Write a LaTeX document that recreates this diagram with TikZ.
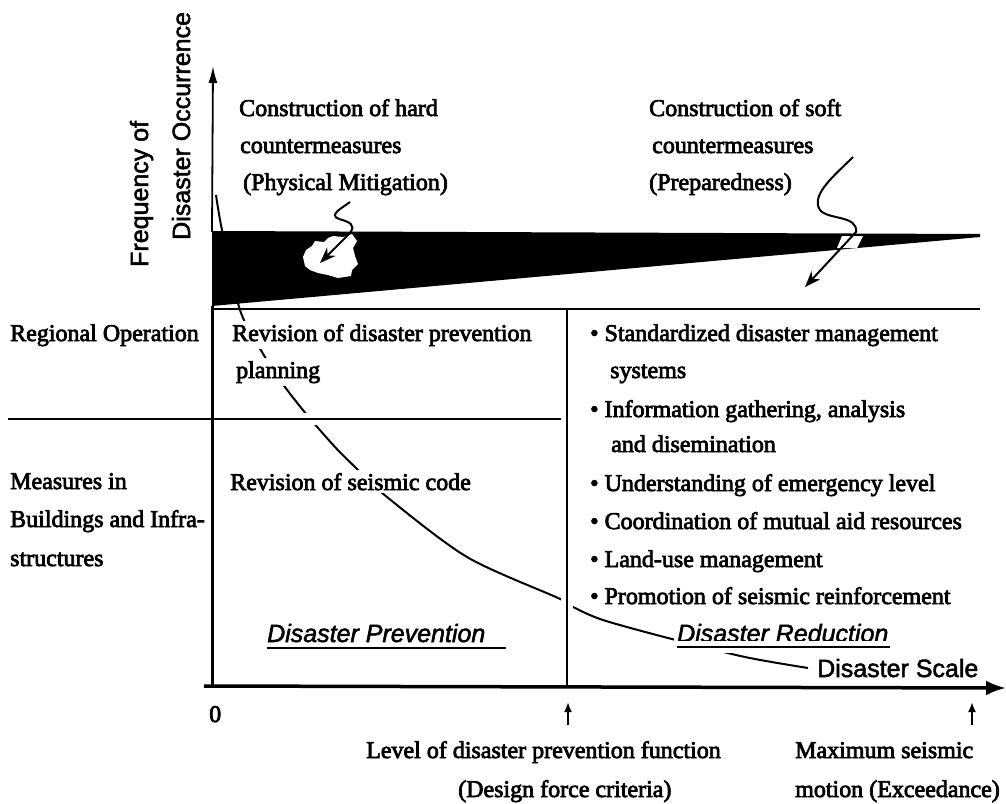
\documentclass[tikz,border=0pt]{standalone}
\usepackage{fontspec}
\setmainfont{Liberation Serif}[FakeBold=3]
\setsansfont{Liberation Sans}[FakeBold=2]
\usetikzlibrary{arrows.meta}

\tikzset{
	txt/.style={anchor=base west, inner sep=0pt},
	wtxt/.style={anchor=base west, fill=white, inner sep=3pt},
	sf/.style={font=\fontsize{25}{30}\selectfont\sffamily},
	sfit/.style={font=\fontsize{25}{30}\selectfont\sffamily\itshape},
	grid/.style={line width=2pt},
	halo/.style={preaction={draw=white, line width=12pt}},
}

\begin{document}
\begin{tikzpicture}[x=1pt, y=-1pt, font=\fontsize{24}{30}\selectfont]
	\useasboundingbox (0,0) rectangle (1006,803);

	% frequency curve (text and lines break it)
	\draw[line width=2pt] plot[smooth] coordinates {(216,195) (222,230) (240,310) (262,352) (282,383) (307,415) (335,447) (355,467) (387,497) (467,557) (558,598) (573,607) (603,620) (668,638) (745,657) (808,668)};

	% countermeasure wedge
	\fill (212,231) -- (980,234) -- (980,237) -- (212,306) -- cycle;
	\fill[white] (306,250) -- (312,246) -- (315,241) -- (324,242) -- (328,238) -- (333,236) -- (343,237) -- (352,234) -- (357,241) -- (353,248) -- (355,256) -- (358,264) -- (352,270) -- (351,276) -- (338,278) -- (328,275) -- (318,273) -- (310,270) -- (305,266) -- (303,257) -- cycle;
	\fill[white] (842,236) -- (863,236) -- (857,248) -- (837,248) -- cycle;

	% frame
	\draw[grid, halo] (8,419) -- (567,419);
	\draw[grid, halo] (567,309) -- (567,686);
	\draw[grid] (212,309) -- (980,309);

	% axes
	\draw[line width=1.8pt, -{Latex[length=17pt,width=9pt]}] (212,232) -- (213,66);
	\draw[line width=3pt] (212,306) -- (212,688);
	\draw[line width=3.5pt, -{Latex[length=20pt,width=15pt]}] (204,686) -- (1006,688);

	\node[txt, rotate=90, sf] (freqA) at (148,267) {Frequency of};
	\node[txt, rotate=90, sf] (freqB) at (190,240) {Disaster Occurrence};

	\node[txt] (hardA) at (239,116) {Construction of hard};
	\node[txt] (hardB) at (240,153) {countermeasures};
	\node[txt] (hardC) at (243,190) {(Physical Mitigation)};
	\node[txt] (softA) at (649,116) {Construction of soft};
	\node[txt] (softB) at (652,153) {countermeasures};
	\node[txt] (softC) at (649,190) {(Preparedness)};

	\coordinate (hardTip) at (320,263);
	\coordinate (softTip) at (805,287);
	\draw[line width=2pt, -{Stealth[length=16pt,width=12pt]}] (350,202) .. controls (342,208) and (328,215) .. (339,219) .. controls (350,222) and (356,225) .. (350,233) -- (hardTip);
	\draw[line width=2pt, -{Stealth[length=16pt,width=12pt]}] (853,157) .. controls (835,175) and (810,195) .. (820,210) .. controls (828,220) and (858,215) .. (856,232) -- (softTip);

	\node[txt] (regional) at (10,341) {Regional Operation};
	\node[txt] (measA) at (10,489) {Measures in};
	\node[txt] (measB) at (10,527) {Buildings and Infra-};
	\node[txt] (measC) at (10,566) {structures};

	\node[wtxt] (planA) at (229,341) {Revision of disaster prevention};
	\node[wtxt] (planB) at (233,378) {planning};
	\node[wtxt] (code) at (227,490) {Revision of seismic code};

	\node[txt] (bulA) at (590,341) {• Standardized disaster management};
	\node[txt] (bulAb) at (610,378) {systems};
	\node[txt] (bulB) at (590,417) {• Information gathering, analysis};
	\node[txt] (bulBb) at (611,452) {and disemination};
	\node[txt] (bulC) at (590,491) {• Understanding of emergency level};
	\node[txt] (bulD) at (590,529) {• Coordination of mutual aid resources};
	\node[txt] (bulE) at (590,567) {• Land-use management};
	\node[txt] (bulF) at (590,604) {• Promotion of seismic reinforcement};

	\node[txt, sfit] (prev) at (267,642) {Disaster Prevention};
	\draw[grid] (267,648) -- (506,648);
	\node[wtxt, sfit] (redu) at (674,642) {Disaster Reduction};
	\draw[grid, halo] (677,647) -- (890,647);
	\node[txt, sf] (scale) at (817,677) {Disaster Scale};

	% scale marks
	\node[txt] (zero) at (209,722) {0};
	\draw[line width=2pt, -{Latex[length=10pt,width=8pt]}] (568,725) -- (568,702);
	\draw[line width=2pt, -{Latex[length=10pt,width=8pt]}] (972,725) -- (972,702);
	\node[txt] (levA) at (366,758) {Level of disaster prevention function};
	\node[txt] (levB) at (458,797) {(Design force criteria)};
	\node[txt] (maxA) at (795,758) {Maximum seismic};
	\node[txt] (maxB) at (795,797) {motion (Exceedance)};
\end{tikzpicture}
\end{document}
